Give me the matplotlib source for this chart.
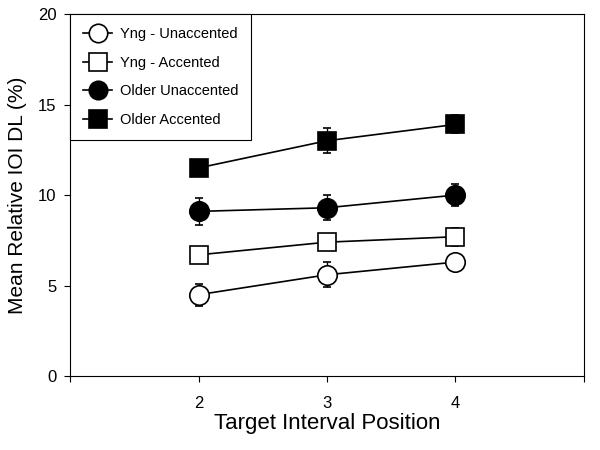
import matplotlib
matplotlib.use("Agg")
import matplotlib.pyplot as plt

plt.rcParams['font.family'] = ['Liberation Sans', 'DejaVu Sans']

# Datos
posiciones = [2, 3, 4]
yng_unacc = [4.5, 5.6, 6.3]
yng_unacc_err = [0.6, 0.7, 0.3]
yng_acc = [6.7, 7.4, 7.7]
yng_acc_err = [0.3, 0.4, 0.5]
old_unacc = [9.1, 9.3, 10.0]
old_unacc_err = [0.75, 0.7, 0.6]
old_acc = [11.5, 13.0, 13.9]
old_acc_err = [0.4, 0.7, 0.5]

fig = plt.figure(figsize=(6, 4.5), dpi=100)
ax = fig.add_axes([0.117, 0.164, 0.856, 0.805])

series = [
    (yng_unacc, yng_unacc_err, 'o', 'white', 'Yng - Unaccented', 14),
    (yng_acc, yng_acc_err, 's', 'white', 'Yng - Accented', 13),
    (old_unacc, old_unacc_err, 'o', 'black', 'Older Unaccented', 14),
    (old_acc, old_acc_err, 's', 'black', 'Older Accented', 13),
]
for vals, err, m, fc, lab, ms in series:
    ax.errorbar(posiciones, vals, yerr=err, fmt='-', color='black', lw=1.2,
                marker=m, markersize=ms, markerfacecolor=fc,
                markeredgecolor='black', markeredgewidth=1.2,
                ecolor='black', elinewidth=1, capsize=3, label=lab)

ax.set_xlim(1, 5)
ax.set_ylim(0, 20)
ax.set_xticks([1, 2, 3, 4, 5])
ax.set_xticklabels(['', '2', '3', '4', ''])
ax.set_yticks([0, 5, 10, 15, 20])
ax.tick_params(direction='out', labelsize=12, length=4)
ax.tick_params(axis='x', pad=10)
ax.tick_params(axis='y', pad=6)
ax.set_xlabel('Target Interval Position', fontsize=16, labelpad=2)
ax.set_ylabel('Mean Relative IOI DL (%)', fontsize=15, labelpad=8)

leg = ax.legend(loc='upper left', borderaxespad=0, fontsize=10.5, fancybox=False,
                edgecolor='black', framealpha=1, handlelength=2.0,
                labelspacing=1.0, borderpad=0.9, markerscale=0.95,
                handletextpad=0.5)
leg.get_frame().set_linewidth(0.8)

plt.savefig('out.png', dpi=100)
